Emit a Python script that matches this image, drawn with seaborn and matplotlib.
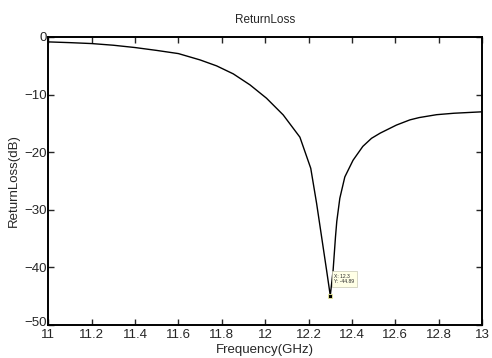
import numpy as np
import pandas as pd
import matplotlib
matplotlib.use("Agg")
import matplotlib.pyplot as plt
import matplotlib.transforms as mtransforms
import seaborn as sns

# values
freq_ghz = [11.00, 11.10, 11.20, 11.30, 11.40, 11.50, 11.60, 11.70, 11.776, 11.853,
            11.93, 12.006, 12.083, 12.16, 12.21, 12.237, 12.26, 12.283, 12.30, 12.313,
            12.324, 12.33, 12.344, 12.367, 12.405, 12.45, 12.49, 12.53, 12.605, 12.667,
            12.71, 12.79, 12.87, 13.00]
return_loss_db = [-0.87, -1.0, -1.16, -1.45, -1.85, -2.35, -2.9, -4.0, -5.03, -6.42,
                  -8.33, -10.64, -13.54, -17.4, -22.8, -28.9, -34.7, -40.5, -44.89, -40.5,
                  -34.7, -32.0, -28.0, -24.3, -21.4, -19.0, -17.6, -16.7, -15.3, -14.4,
                  -14.0, -13.5, -13.25, -13.0]
tip_x = 12.3
tip_y = -44.89
x_ticks = [11, 11.2, 11.4, 11.6, 11.8, 12, 12.2, 12.4, 12.6, 12.8, 13]
x_tick_labels = ["11", "11.2", "11.4", "11.6", "11.8", "12", "12.2", "12.4", "12.6", "12.8", "13"]
y_ticks = [-50, -40, -30, -20, -10, 0]

sns.set_style("ticks")
plt.rcParams['font.family'] = ['Liberation Sans', 'DejaVu Sans']
plt.rcParams['xtick.direction'] = 'in'
plt.rcParams['ytick.direction'] = 'in'

df = pd.DataFrame({'Frequency': freq_ghz, 'ReturnLoss': return_loss_db})

fig = plt.figure(figsize=(4.92, 3.58), dpi=100)
ax = fig.add_axes([0.098, 0.092, 0.882, 0.805])
sns.lineplot(data=df, x='Frequency', y='ReturnLoss', color='black', linewidth=1.0, ax=ax)

ax.set_xlim(11, 13)
ax.set_ylim(-50, 0)
ax.set_xticks(x_ticks, labels=x_tick_labels)
ax.set_yticks(y_ticks)
ax.tick_params(axis='both', labelsize=9.5, length=4, width=1, top=True, right=True)
ax.tick_params(axis='x', pad=3)
ax.tick_params(axis='y', pad=1)
for s in ax.spines.values():
    s.set_linewidth(1.4)
    s.set_color('black')

# lift the bottom y label a little, as in the reference, so it clears "11"
lowest = ax.get_yticklabels()[0]
lowest.set_transform(lowest.get_transform() +
                     mtransforms.ScaledTranslation(0, 4 / 100, fig.dpi_scale_trans))

ax.set_title('ReturnLoss', fontsize=8.5, pad=10)
ax.set_xlabel('Frequency(GHz)', fontsize=9.5, labelpad=2)
ax.set_ylabel('ReturnLoss(dB)', fontsize=9.5, labelpad=3)

# data tip
ax.plot([tip_x], [tip_y], marker='s', markersize=3.5, color='black',
        markeredgecolor='#f0f0a0', markeredgewidth=0.6)
ax.annotate(f'X: {tip_x}\nY: {tip_y}', xy=(tip_x, tip_y), xytext=(3, 8),
            textcoords='offset points', fontsize=3.6, va='bottom', ha='left',
            bbox=dict(boxstyle='square,pad=0.5', fc='#ffffe6', ec='#c8c8b4', lw=0.5))

fig.savefig('out.png', dpi=100)
